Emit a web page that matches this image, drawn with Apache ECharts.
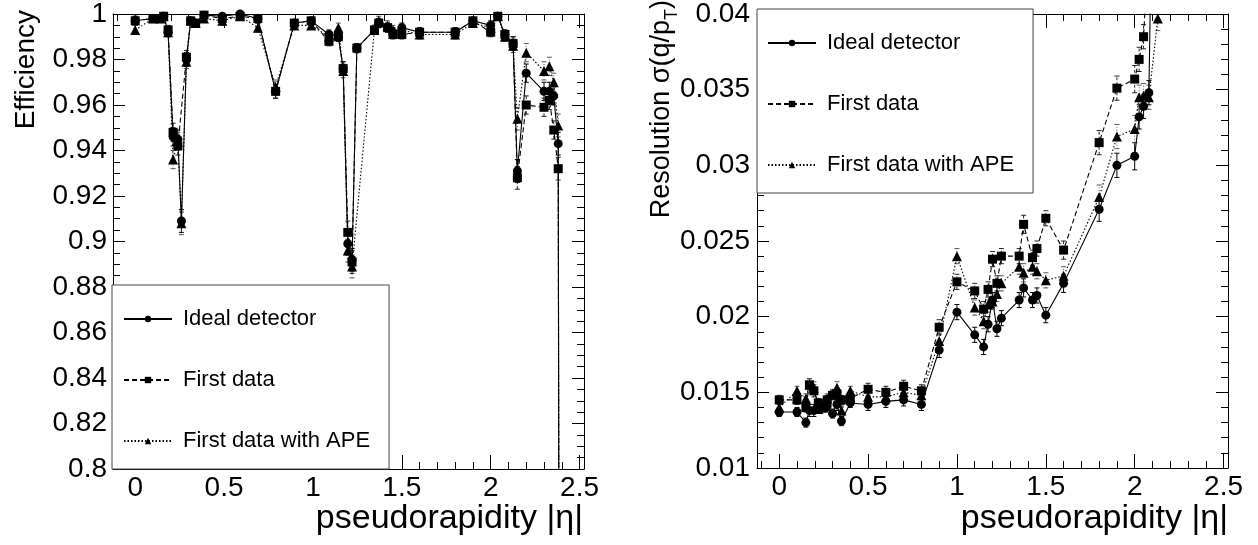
<!DOCTYPE html>
<html><head><meta charset="utf-8">
<script src="https://cdn.jsdelivr.net/npm/echarts@6/dist/echarts.min.js"></script>
<style>html,body{margin:0;padding:0;background:#fff}#c{width:1258px;height:545px}</style>
</head><body><div id="c"></div>
<script>
// ---------- data ----------
const seriesNames = ['Ideal detector', 'First data', 'First data with APE'];
const xTitle = 'pseudorapidity |η|';
const yTitleLeft = 'Efficiency';
const yTitleRightMain = 'Resolution σ(q/p';
const yTitleRightSub = 'T';
const yTitleRightEnd = ')';

// Left panel: efficiency vs |eta|
const etaL = [0.0, 0.1, 0.14, 0.16, 0.185, 0.213, 0.24, 0.26, 0.288, 0.312,
  0.34, 0.387, 0.49, 0.59, 0.69, 0.79, 0.895, 0.99, 1.09, 1.143,
  1.17, 1.196, 1.22, 1.247, 1.346, 1.37, 1.42, 1.45, 1.50, 1.60,
  1.80, 1.90, 2.0, 2.04, 2.08, 2.126, 2.15, 2.20, 2.30, 2.33,
  2.355, 2.38, 2.40];
const effIdeal = [0.997, 0.998, 0.998, 0.999, 0.992, 0.946, 0.945, 0.909, 0.980, 0.997,
  0.996, 0.9995, 0.999, 1.0, 0.998, 0.966, 0.996, 0.997, 0.991, 0.990,
  0.976, 0.899, 0.892, 0.985, 0.993, 0.996, 0.994, 0.992, 0.994, 0.992,
  0.992, 0.997, 0.995, 0.999, 0.991, 0.987, 0.931, 0.974, 0.966, 0.966,
  0.964, 0.943, 0.0];
const effFirst = [0.997, 0.998, 0.998, 0.999, 0.993, 0.948, 0.942, null, 0.981, 0.997,
  0.996, 0.9995, 0.998, 0.999, 0.998, 0.966, 0.996, 0.997, 0.988, 0.990,
  0.976, 0.904, 0.891, 0.985, 0.993, 0.996, 0.994, 0.991, 0.991, 0.992,
  0.992, 0.997, 0.992, 0.999, 0.991, 0.987, 0.928, 0.960, 0.959, 0.962,
  0.949, 0.932, 0.0];
const effAPE = [0.993, 0.998, 0.998, 0.999, 0.992, 0.936, 0.944, 0.908, 0.979, 0.997,
  0.996, 0.998, 0.997, 0.999, 0.994, 0.968, 0.995, 0.995, 0.990, 0.994,
  0.975, 0.896, 0.889, null, 0.993, 0.997, 0.995, 0.993, 0.993, 0.991,
  0.991, 0.996, 0.994, 0.999, 0.990, 0.986, 0.954, 0.983, 0.975, 0.977,
  0.970, 0.951, 0.0];
const errEff = [0.002, 0.001, 0.001, 0.001, 0.002, 0.004, 0.004, 0.005, 0.003, 0.001,
  0.001, 0.001, 0.002, 0.001, 0.002, 0.003, 0.001, 0.001, 0.002, 0.002,
  0.003, 0.005, 0.005, 0.002, 0.002, 0.002, 0.002, 0.002, 0.002, 0.002,
  0.002, 0.001, 0.002, 0.001, 0.002, 0.003, 0.005, 0.004, 0.004, 0.004,
  0.004, 0.005, 0];

// Right panel: resolution sigma(q/pT) vs |eta|
const etaR = [0.0, 0.1, 0.15, 0.17, 0.195, 0.22, 0.25, 0.27, 0.30, 0.325,
  0.35, 0.40, 0.50, 0.60, 0.70, 0.80, 0.90, 1.00, 1.10, 1.15,
  1.175, 1.20, 1.225, 1.25, 1.35, 1.375, 1.425, 1.45, 1.50, 1.60,
  1.80, 1.90, 2.00, 2.025, 2.05, 2.08, 2.10, 2.13];
const resIdeal = [0.0137, 0.0137, 0.0130, 0.0138, 0.0138, 0.0140, 0.0141, 0.0141, 0.0136, 0.0142,
  0.0131, 0.0143, 0.0142, 0.0144, 0.0145, 0.0142, 0.0178, 0.0203, 0.0188, 0.0180,
  0.0195, 0.0211, 0.0192, 0.0199, 0.0211, 0.0219, 0.0211, 0.0214, 0.0201, 0.0222,
  0.0271, 0.0300, 0.0306, 0.0332, 0.0339, 0.0348, 0.0500, null];
const resFirst = [0.0145, 0.0145, 0.0140, 0.0155, 0.0151, 0.0143, 0.0140, 0.0145, 0.0148, 0.0149,
  0.0145, 0.0146, 0.0152, 0.0150, 0.0154, 0.0151, 0.0193, 0.0223, 0.0217, 0.0205,
  0.0218, 0.0238, 0.0222, 0.0240, 0.0240, 0.0261, 0.0239, 0.0245, 0.0265, 0.0244,
  0.0315, 0.0351, 0.0357, 0.0370, 0.0385, 0.0450, null, null];
const resAPE = [0.0140, 0.0151, 0.0146, 0.0155, 0.0153, 0.0139, 0.0140, 0.0146, 0.0149, 0.0153,
  0.0138, 0.0151, 0.0147, 0.0147, 0.0150, 0.0148, 0.0184, 0.0240, 0.0206, 0.0197,
  0.0208, 0.0210, 0.0215, 0.0222, 0.0233, 0.0229, 0.0233, 0.0230, 0.0224, 0.0227,
  0.0279, 0.0319, 0.0324, 0.0345, 0.0346, 0.0345, null, 0.0397];
const errRes = [0.0003, 0.0003, 0.0003, 0.0004, 0.0004, 0.0003, 0.0003, 0.0003, 0.0003, 0.0004,
  0.0003, 0.0003, 0.0004, 0.0004, 0.0004, 0.0004, 0.0005, 0.0005, 0.0005, 0.0005,
  0.0005, 0.0005, 0.0005, 0.0005, 0.0005, 0.0006, 0.0005, 0.0005, 0.0005, 0.0006,
  0.0008, 0.0008, 0.0009, 0.0008, 0.0008, 0.0008, 0, 0.0008];

// ---------- chart ----------
const FONT = '"Liberation Sans", Arial, Helvetica, sans-serif';
const XMIN = -0.125, XMAX = 2.525;
function isHalf(v) { return Math.abs(v * 2 - Math.round(v * 2)) < 1e-6; }

function xAxesFor(grid) {
  const base = { gridIndex: grid, type: 'value', min: XMIN, max: XMAX, splitLine: { show: false } };
  const line = { show: true, onZero: false, lineStyle: { color: '#000', width: 1 } };
  return [
    Object.assign({}, base, { position: 'bottom', splitNumber: 5, axisLine: line,
      axisTick: { show: true, inside: true, length: 14, lineStyle: { color: '#000' } },
      axisLabel: { show: true, fontSize: 28, fontFamily: FONT, color: '#000', margin: 5,
        formatter: v => isHalf(v) ? String(Math.round(v * 2) / 2) : '' } }),
    Object.assign({}, base, { position: 'top', splitNumber: 5, axisLine: line,
      axisTick: { show: true, inside: true, length: 14, lineStyle: { color: '#000' } },
      axisLabel: { show: false } }),
    Object.assign({}, base, { position: 'bottom', splitNumber: 26, axisLine: { show: false, onZero: false },
      axisTick: { show: true, inside: true, length: 7, lineStyle: { color: '#000' } },
      axisLabel: { show: false } }),
    Object.assign({}, base, { position: 'top', splitNumber: 26, axisLine: { show: false, onZero: false },
      axisTick: { show: true, inside: true, length: 7, lineStyle: { color: '#000' } },
      axisLabel: { show: false } })
  ];
}
function yAxesFor(grid, min, max, interval, minorSplit, margin) {
  const base = { gridIndex: grid, type: 'value', min: min, max: max, interval: interval,
    splitLine: { show: false },
    axisLine: { show: true, onZero: false, lineStyle: { color: '#000', width: 1 } },
    axisTick: { show: true, inside: true, length: 12, lineStyle: { color: '#000' } },
    minorTick: { show: true, splitNumber: minorSplit, length: 7, lineStyle: { color: '#000' } } };
  return [
    Object.assign({}, base, { position: 'left',
      axisLabel: { show: true, fontSize: 28, lineHeight: 12, fontFamily: FONT, color: '#000', margin: margin } }),
    Object.assign({}, base, { position: 'right', axisLabel: { show: false } })
  ];
}
function pairs(xs, ys) {
  const out = [];
  xs.forEach((x, i) => { if (ys[i] !== null && ys[i] !== undefined) out.push([x, ys[i]]); });
  return out;
}
function triples(xs, ys, es) {
  const out = [];
  xs.forEach((x, i) => { if (ys[i] !== null && ys[i] !== undefined) out.push([x, ys[i], es[i]]); });
  return out;
}
const styles = [
  { symbol: 'circle', size: 9, dash: 'solid', ebDash: null, ebColor: '#000' },
  { symbol: 'rect', size: 9, dash: [5, 3], ebDash: [3, 2], ebColor: '#222' },
  { symbol: 'triangle', size: 10, dash: [1.5, 2], ebDash: [1, 2], ebColor: '#555' }
];
function errRender(st) {
  return function (params, api) {
    const x = api.value(0), y = api.value(1), e = api.value(2);
    if (!e) return null;
    const lo = api.coord([x, y - e]), hi = api.coord([x, y + e]);
    const cw = 2.5;
    const main = { stroke: st.ebColor, lineWidth: 1 };
    if (st.ebDash) main.lineDash = st.ebDash;
    return { type: 'group', children: [
      { type: 'line', shape: { x1: lo[0], y1: lo[1], x2: hi[0], y2: hi[1] }, style: main },
      { type: 'line', shape: { x1: lo[0] - cw, y1: lo[1], x2: lo[0] + cw, y2: lo[1] }, style: { stroke: st.ebColor, lineWidth: 1 } },
      { type: 'line', shape: { x1: hi[0] - cw, y1: hi[1], x2: hi[0] + cw, y2: hi[1] }, style: { stroke: st.ebColor, lineWidth: 1 } }
    ] };
  };
}
function panelSeries(xIdx, yIdx, xs, ysList, errs) {
  const out = [];
  ysList.forEach((ys, k) => {
    const st = styles[k];
    out.push({ type: 'custom', name: 'err' + xIdx + '_' + k, xAxisIndex: xIdx, yAxisIndex: yIdx,
      renderItem: errRender(st), data: triples(xs, ys, errs), clip: true, silent: true,
      encode: { x: 0, y: 1 }, z: 2 });
  });
  [0, 2, 1].forEach(k => {
    const st = styles[k];
    out.push({ type: 'line', name: seriesNames[k], xAxisIndex: xIdx, yAxisIndex: yIdx,
      data: pairs(xs, ysList[k]), symbol: st.symbol, symbolSize: st.size, showSymbol: true,
      showAllSymbol: true, connectNulls: true, clip: true, silent: true,
      lineStyle: { color: '#000', width: 1.1, type: st.dash },
      itemStyle: { color: '#000', borderWidth: 0 }, z: 3 });
  });
  return out;
}
const legendCommon = {
  orient: 'vertical', itemGap: 37, itemWidth: 48, itemHeight: 8,
  borderColor: '#444', borderWidth: 1, borderRadius: 0, backgroundColor: '#fff',
  selectedMode: false, data: seriesNames, align: 'left',
  textStyle: { fontSize: 22, fontFamily: FONT, color: '#000', lineHeight: 24, padding: [0, 0, 0, 6] }
};
const option = {
  animation: false,
  grid: [
    { left: 113, top: 9, width: 471, height: 460 },
    { left: 757, top: 9, width: 471, height: 459 }
  ],
  xAxis: xAxesFor(0).concat(xAxesFor(1)),
  yAxis: yAxesFor(0, 0.8, 1.0, 0.02, 4, 6).concat(yAxesFor(1, 0.01, 0.04, 0.005, 5, 7)),
  legend: [
    Object.assign({}, legendCommon, { left: 112, top: 285, padding: [22, 19, 16, 11] }),
    Object.assign({}, legendCommon, { left: 757, top: 9, padding: [22, 19, 16, 10] })
  ],
  series: panelSeries(0, 0, etaL, [effIdeal, effFirst, effAPE], errEff)
    .concat(panelSeries(4, 2, etaR, [resIdeal, resFirst, resAPE], errRes)),
  graphic: [
    { type: 'text', x: 583, y: 519, silent: true,
      style: { text: xTitle, fontSize: 34, fontFamily: FONT, fill: '#000', textAlign: 'right', textVerticalAlign: 'middle' } },
    { type: 'text', x: 1228, y: 519, silent: true,
      style: { text: xTitle, fontSize: 34, fontFamily: FONT, fill: '#000', textAlign: 'right', textVerticalAlign: 'middle' } },
    { type: 'text', x: 26, y: 10, rotation: Math.PI / 2, silent: true,
      style: { text: yTitleLeft, fontSize: 28, fontFamily: FONT, fill: '#000', textAlign: 'right', textVerticalAlign: 'middle' } },
    { type: 'group', x: 662, y: 0, rotation: Math.PI / 2, silent: true, children: [
      { type: 'text', x: 0, y: 0, style: { text: yTitleRightEnd, fontSize: 27, fontFamily: FONT, fill: '#000', textAlign: 'right', textVerticalAlign: 'middle' } },
      { type: 'text', x: -9, y: 10, style: { text: yTitleRightSub, fontSize: 18, fontFamily: FONT, fill: '#000', textAlign: 'right', textVerticalAlign: 'middle' } },
      { type: 'text', x: -20, y: 0, style: { text: yTitleRightMain, fontSize: 27, fontFamily: FONT, fill: '#000', textAlign: 'right', textVerticalAlign: 'middle' } }
    ] }
  ]
};
const chart = echarts.init(document.getElementById('c'), null, { renderer: 'canvas' });
chart.setOption(option);
</script>
</body></html>
